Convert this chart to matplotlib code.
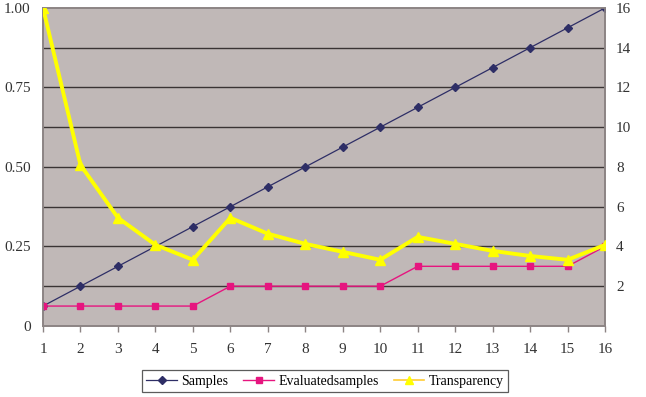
import numpy as np
import matplotlib.pyplot as plt

plt.rcParams['font.family'] = ['Liberation Serif', 'DejaVu Serif']

# Data
runs = list(range(1, 17))
samples = [1, 2, 3, 4, 5, 6, 7, 8, 9, 10, 11, 12, 13, 14, 15, 16]
evaluated = [1, 1, 1, 1, 1, 2, 2, 2, 2, 2, 3, 3, 3, 3, 3, 4]
transparency = [1.00, 0.506, 0.34, 0.255, 0.208, 0.34, 0.29, 0.258, 0.233, 0.208,
                0.28, 0.258, 0.236, 0.22, 0.208, 0.255]

fig = plt.figure(figsize=(6.46, 3.97), dpi=100)
ax = fig.add_axes([0.0666, 0.179, 0.87, 0.801])
ax2 = ax.twinx()

bg = '#c0b8b7'

# Horizontal grid every 2 samples on the right scale
for v in range(2, 16, 2):
    ax2.axhline(v, color='#3a3434', lw=1.0, zorder=0)

l1, = ax2.plot(runs, samples, color='#2e2e66', lw=0.9, marker='D', ms=4,
               label='Samples', zorder=3)
l2, = ax2.plot(runs, evaluated, color='#e6157f', lw=1.0, marker='s', ms=5,
               label='Evaluatedsamples', zorder=3)
l3, = ax.plot(runs, transparency, color='#ffff00', lw=2.8, marker='^', ms=7,
              label='Transparency', zorder=4)
ax.patch.set_visible(False)
ax2.patch.set_visible(True)
ax2.patch.set_facecolor(bg)
ax2.set_zorder(0)
ax.set_zorder(1)

ax.set_xlim(1, 16)
ax.set_ylim(0, 1.0)
ax2.set_ylim(0, 16)

ax.set_xticks(runs)
ax.set_yticks([0, 0.25, 0.5, 0.75, 1.0])
ax.set_yticklabels(['0', '0.25', '0.50', '0.75', '1.00'])
ax2.set_yticks(range(2, 17, 2))

for a in (ax, ax2):
    for s in a.spines.values():
        s.set_color('#8c8484')
        s.set_linewidth(1.2)
    a.tick_params(colors='#8c8484', labelcolor='#333333', labelsize=11,
                  length=4, width=1)
ax2.tick_params(axis='y', length=0, pad=8)
ax.tick_params(axis='x', pad=8)
ax.tick_params(axis='y', length=0, pad=9)

leg = fig.legend(handles=[l1, l2, l3], loc='center',
                 bbox_to_anchor=(0.503, 0.04), ncol=3, fontsize=10,
                 frameon=True, fancybox=False, edgecolor='#333333',
                 handlelength=2.2, handletextpad=0.3, columnspacing=1.1,
                 borderpad=0.3)
leg.get_frame().set_linewidth(0.9)
leg.legend_handles[2].set_color('#ffcc33')
leg.legend_handles[2].set_linewidth(1.2)
leg.legend_handles[2].set_markerfacecolor('#ffff00')
leg.legend_handles[2].set_markeredgecolor('#ffff00')
leg.legend_handles[0].set_markersize(4)
leg.legend_handles[2].set_markersize(6)

fig.savefig('out.png', dpi=100, facecolor='white')
